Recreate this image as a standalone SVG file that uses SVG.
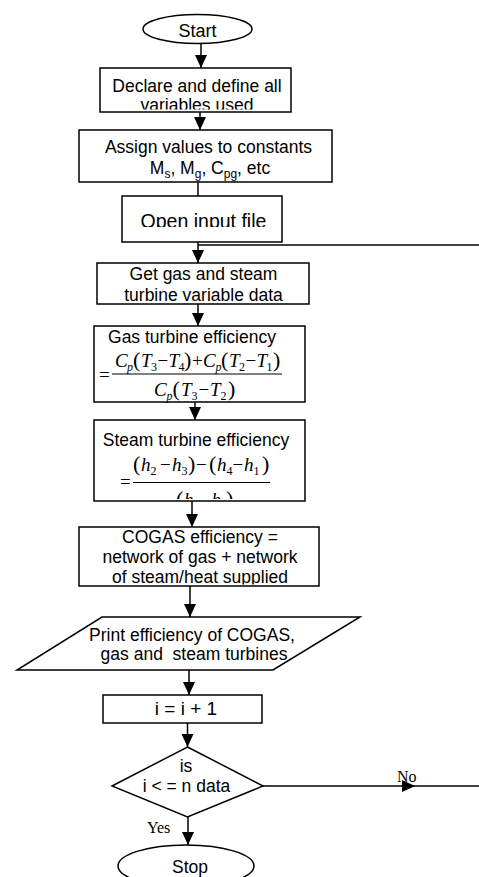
<svg xmlns="http://www.w3.org/2000/svg" width="479" height="877" viewBox="0 0 479 877">
<style>
.shape{fill:#fff;stroke:#000;stroke-width:1.5}
.lbl{font-family:"Liberation Sans",Arial,sans-serif;font-size:17.5px;fill:#000;text-anchor:middle}
.sub{font-size:12px}
.math{font-family:"Liberation Serif","Times New Roman",serif;font-size:19px;fill:#000}
.v{font-style:italic}
.ms{font-size:12px}
.par{font-size:22px}
.tag{font-family:"Liberation Serif","Times New Roman",serif;font-size:16px;fill:#000}
.wire{fill:none;stroke:#000;stroke-width:1.5}
.arrow{marker-end:url(#head)}
</style>
<defs>
<marker id="head" markerUnits="userSpaceOnUse" markerWidth="13" markerHeight="12" refX="13" refY="6" orient="auto">
<path d="M0,0 L13,6 L0,12 z" fill="#000"/>
</marker>
<clipPath id="clipDeclare"><rect x="100" y="68" width="191" height="41.5"/></clipPath>
<clipPath id="clipOpen"><rect x="122" y="196" width="160" height="31"/></clipPath>
<clipPath id="clipGet"><rect x="97" y="263" width="212" height="39"/></clipPath>
<clipPath id="clipSteam"><rect x="94" y="420" width="211" height="79"/></clipPath>
<clipPath id="clipCogas"><rect x="79" y="527" width="240" height="57.5"/></clipPath>
</defs>

<!-- connectors -->
<g id="connectors">
<path class="wire arrow" d="M201,43 V68"/>
<path class="wire arrow" d="M200,112 V130"/>
<path class="wire" d="M198,182 V196"/>
<path class="wire" d="M198,245 H479"/>
<path class="wire arrow" d="M198,242 V263"/>
<path class="wire arrow" d="M198,304 V326"/>
<path class="wire arrow" d="M195,402 V420"/>
<path class="wire arrow" d="M192,501 V527"/>
<path class="wire arrow" d="M190,586 V617"/>
<path class="wire arrow" d="M189,670 V695"/>
<path class="wire arrow" d="M187.5,723 V747"/>
<path class="wire arrow" d="M188,817 V845"/>
<path class="wire arrow" d="M263,786 H415"/>
<path class="wire" d="M415,786 H479"/>
<text class="tag" x="397" y="782">No</text>
<text class="tag" x="147" y="833">Yes</text>
</g>

<g id="start">
<ellipse class="shape" cx="197.5" cy="29" rx="54.5" ry="14.5"/>
<text class="lbl" x="197.5" y="36.5" style="font-size:18px">Start</text>
</g>

<g id="declare">
<rect class="shape" x="100" y="68" width="191" height="44"/>
<g clip-path="url(#clipDeclare)">
<text class="lbl" x="197" y="91.5">Declare and define all</text>
<text class="lbl" x="197" y="111">variables used</text>
</g>
</g>

<g id="assign">
<rect class="shape" x="79" y="130" width="253" height="52"/>
<text class="lbl" x="208.5" y="153">Assign values to constants</text>
<text class="lbl" x="210" y="174">M<tspan class="sub" dy="4">s</tspan><tspan dy="-4">, M</tspan><tspan class="sub" dy="4">g</tspan><tspan dy="-4">, C</tspan><tspan class="sub" dy="4">pg</tspan><tspan dy="-4">, etc</tspan></text>
</g>

<g id="open-file">
<rect class="shape" x="122" y="196" width="160" height="46"/>
<g clip-path="url(#clipOpen)">
<text class="lbl" x="203.5" y="227.5" style="font-size:19.5px">Open input file</text>
</g>
</g>

<g id="get-data">
<rect class="shape" x="97" y="263" width="212" height="41"/>
<g clip-path="url(#clipGet)">
<text class="lbl" x="203.5" y="280">Get gas and steam</text>
<text class="lbl" x="203.5" y="301">turbine variable data</text>
</g>
</g>

<g id="gas-efficiency">
<rect class="shape" x="94" y="326" width="211" height="76"/>
<text class="lbl" x="192" y="343">Gas turbine efficiency</text>
<text class="math" x="99" y="381">=</text>
<line x1="112" y1="374" x2="282" y2="374" stroke="#000" stroke-width="1"/>
<text class="math" y="367"><tspan class="v" x="115">C</tspan><tspan class="v ms" x="127" dy="4">p</tspan><tspan class="par" x="133" dy="-4">(</tspan><tspan class="v" x="141">T</tspan><tspan class="ms" x="151" dy="4">3</tspan><tspan x="157.5" dy="-4">−</tspan><tspan class="v" x="168.5">T</tspan><tspan class="ms" x="178.5" dy="4">4</tspan><tspan class="par" x="184" dy="-4">)</tspan><tspan x="192">+</tspan><tspan class="v" x="203">C</tspan><tspan class="v ms" x="215.5" dy="4">p</tspan><tspan class="par" x="221" dy="-4">(</tspan><tspan class="v" x="229">T</tspan><tspan class="ms" x="239" dy="4">2</tspan><tspan x="245.5" dy="-4">−</tspan><tspan class="v" x="256.5">T</tspan><tspan class="ms" x="266.5" dy="4">1</tspan><tspan class="par" x="273" dy="-4">)</tspan></text>
<text class="math" y="396"><tspan class="v" x="154">C</tspan><tspan class="v ms" x="166.5" dy="4">p</tspan><tspan class="par" x="172.5" dy="-4">(</tspan><tspan class="v" x="181">T</tspan><tspan class="ms" x="191.5" dy="4">3</tspan><tspan x="198.5" dy="-4">−</tspan><tspan class="v" x="210">T</tspan><tspan class="ms" x="220.5" dy="4">2</tspan><tspan class="par" x="228" dy="-4">)</tspan></text>
</g>

<g id="steam-efficiency">
<rect class="shape" x="94" y="420" width="211" height="81"/>
<g clip-path="url(#clipSteam)">
<text class="lbl" x="196" y="446">Steam turbine efficiency</text>
<text class="math" x="120" y="488">=</text>
<line x1="133" y1="482.5" x2="270" y2="482.5" stroke="#000" stroke-width="1"/>
<text class="math" y="471"><tspan class="par" x="133">(</tspan><tspan class="v" x="141">h</tspan><tspan class="ms" x="150.5" dy="4">2</tspan><tspan x="160" dy="-4">−</tspan><tspan class="v" x="172">h</tspan><tspan class="ms" x="181.5" dy="4">3</tspan><tspan class="par" x="188" dy="-4">)</tspan><tspan x="196">−</tspan><tspan class="par" x="209">(</tspan><tspan class="v" x="217">h</tspan><tspan class="ms" x="226.5" dy="4">4</tspan><tspan x="232.5" dy="-4">−</tspan><tspan class="v" x="244">h</tspan><tspan class="ms" x="253.5" dy="4">1</tspan><tspan class="par" x="262" dy="-4">)</tspan></text>
<text class="math" y="506"><tspan class="par" x="176">(</tspan><tspan class="v" x="184">h</tspan><tspan class="ms" x="193.5" dy="4">3</tspan><tspan x="200" dy="-4">−</tspan><tspan class="v" x="211.5">h</tspan><tspan class="ms" x="221" dy="4">2</tspan><tspan class="par" x="226" dy="-4">)</tspan></text>
</g>
</g>

<g id="cogas-efficiency">
<rect class="shape" x="79" y="527" width="240" height="59"/>
<g clip-path="url(#clipCogas)">
<text class="lbl" x="200" y="543">COGAS efficiency =</text>
<text class="lbl" x="200" y="563">network of gas + network</text>
<text class="lbl" x="200" y="583">of steam/heat supplied</text>
</g>
</g>

<g id="print-output">
<polygon class="shape" points="102,617 360,617 273,670 17,670"/>
<text class="lbl" x="192" y="641">Print efficiency of COGAS,</text>
<text class="lbl" x="194" y="660" style="white-space:pre">gas and  steam turbines</text>
</g>

<g id="increment">
<rect class="shape" x="103" y="695" width="159" height="28"/>
<text class="lbl" x="186" y="715" style="font-size:19px">i = i + 1</text>
</g>

<g id="decision">
<polygon class="shape" points="187.5,747 263,786 187.5,817 112,786"/>
<text class="lbl" x="186" y="772">is</text>
<text class="lbl" x="186.5" y="792">i &lt; = n data</text>
</g>

<g id="stop">
<ellipse class="shape" cx="186" cy="866" rx="68" ry="21"/>
<text class="lbl" x="190" y="873">Stop</text>
</g>
</svg>
